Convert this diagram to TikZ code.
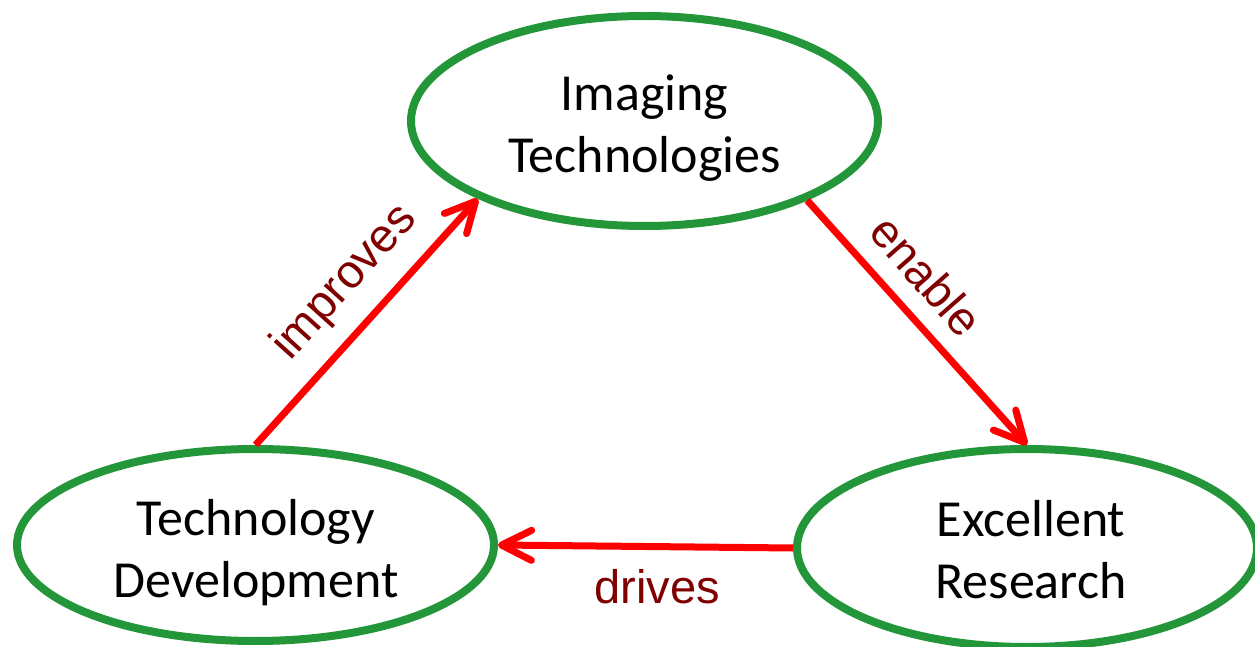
\documentclass[tikz,border=0pt]{standalone}
\usepackage{fontspec}
\setmainfont{Carlito}
\newfontfamily\arialf{Liberation Sans}
\usetikzlibrary{shapes.geometric,arrows.meta,shadows}
\definecolor{bgreen}{RGB}{34,150,56}
\definecolor{lblred}{RGB}{128,0,0}
\begin{document}
\begin{tikzpicture}[x=0.5pt,y=-0.5pt,
  bubble/.style={ellipse,draw=bgreen,line width=4pt,inner sep=0pt,fill=white,
    drop shadow={opacity=0.2,shadow xshift=1.5pt,shadow yshift=-1.5pt}},
  bubtext/.style={align=center,font=\fontsize{26}{31}\selectfont,text=black,inner sep=0pt},
  link/.style={draw=red,line width=3.5pt,-{Straight Barb[length=15pt,width=15pt,line cap=round,line join=round]}},
  lbl/.style={font=\arialf\fontsize{23.5}{28}\selectfont,text=lblred,anchor=base,inner sep=0pt}]
\useasboundingbox (0,0) rectangle (1255,647);
\fill[white] (0,0) rectangle (1255,647);
% ellipses
\node[bubble,minimum width=233.5pt,minimum height=105pt] (img) at (644.5,121) {};
\node[bubble,minimum width=238.5pt,minimum height=96pt] (dev) at (255.5,545) {};
\node[bubble,minimum width=230pt,minimum height=99pt] (res) at (1027,548) {};
% texts
\node[bubtext] (imgt) at (644.5,128) {Imaging\\Technologies};
\node[bubtext] (devt) at (256,553) {Technology\\Development};
\node[bubtext] (rest) at (1031,550) {Excellent\\Research};
% connectors
\draw[link] (dev.90) -- (img.205.4);
\draw[link] (img.334.2) -- (res.90);
\draw[link] (res.180) -- (dev.0);
% labels
\node[lbl,rotate=48] (l1) at (354,291) {improves};
\node[lbl,rotate=-48.7] (l2) at (914,287) {enable};
\node[lbl] (l3) at (657,603) {drives};
\end{tikzpicture}
\end{document}
